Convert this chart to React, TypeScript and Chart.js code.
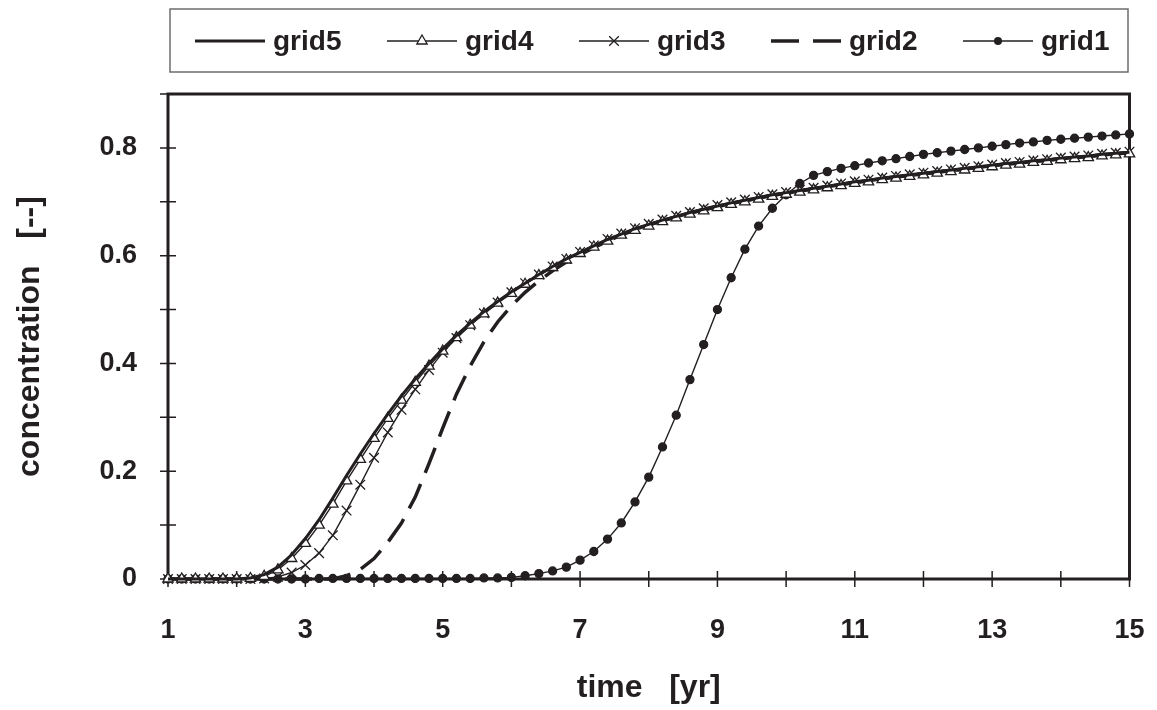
import React, { useEffect, useRef } from 'react';
import { Chart, registerables } from 'chart.js';

Chart.register(...registerables);

// ---------- data ----------
const times = [
  1, 1.2, 1.4, 1.6, 1.8, 2, 2.2, 2.4, 2.6, 2.8,
  3, 3.2, 3.4, 3.6, 3.8, 4, 4.2, 4.4, 4.6, 4.8,
  5, 5.2, 5.4, 5.6, 5.8, 6, 6.2, 6.4, 6.6, 6.8,
  7, 7.2, 7.4, 7.6, 7.8, 8, 8.2, 8.4, 8.6, 8.8,
  9, 9.2, 9.4, 9.6, 9.8, 10, 10.2, 10.4, 10.6, 10.8,
  11, 11.2, 11.4, 11.6, 11.8, 12, 12.2, 12.4, 12.6, 12.8,
  13, 13.2, 13.4, 13.6, 13.8, 14, 14.2, 14.4, 14.6, 14.8,
  15,
];

const grid5 = [
  0, 0, 0, 0, 0, 0, 0.002, 0.008, 0.022, 0.045,
  0.075, 0.110, 0.150, 0.192, 0.232, 0.270, 0.306, 0.340, 0.371, 0.400,
  0.427, 0.452, 0.475, 0.496, 0.515, 0.533, 0.549, 0.565, 0.580, 0.594,
  0.606, 0.618, 0.630, 0.640, 0.650, 0.658, 0.666, 0.673, 0.680, 0.686,
  0.692, 0.698, 0.703, 0.708, 0.713, 0.717, 0.721, 0.725, 0.729, 0.733,
  0.737, 0.740, 0.744, 0.747, 0.750, 0.753, 0.756, 0.759, 0.762, 0.765,
  0.768, 0.771, 0.773, 0.776, 0.778, 0.781, 0.783, 0.785, 0.788, 0.790,
  0.792,
];

const grid4 = [
  0, 0, 0, 0, 0, 0, 0.001, 0.005, 0.017, 0.038,
  0.066, 0.100, 0.139, 0.182, 0.222, 0.261, 0.298, 0.332, 0.365, 0.395,
  0.423, 0.448, 0.471, 0.492, 0.512, 0.530, 0.547, 0.563, 0.578, 0.592,
  0.604, 0.616, 0.627, 0.638, 0.647, 0.655, 0.663, 0.670, 0.677, 0.683,
  0.689, 0.695, 0.700, 0.705, 0.710, 0.714, 0.718, 0.722, 0.726, 0.730,
  0.734, 0.737, 0.741, 0.744, 0.747, 0.750, 0.753, 0.756, 0.759, 0.762,
  0.765, 0.768, 0.770, 0.773, 0.775, 0.778, 0.780, 0.782, 0.785, 0.787,
  0.789,
];

const grid3 = [
  0, 0, 0, 0, 0, 0, 0, 0.001, 0.004, 0.012,
  0.026, 0.048, 0.081, 0.127, 0.175, 0.225, 0.272, 0.314, 0.352, 0.388,
  0.420, 0.447, 0.471, 0.493, 0.513, 0.532, 0.549, 0.565, 0.580, 0.594,
  0.607, 0.619, 0.631, 0.641, 0.651, 0.659, 0.667, 0.674, 0.681, 0.688,
  0.694, 0.699, 0.704, 0.709, 0.714, 0.718, 0.722, 0.726, 0.730, 0.734,
  0.738, 0.741, 0.745, 0.748, 0.751, 0.754, 0.757, 0.760, 0.763, 0.766,
  0.769, 0.772, 0.774, 0.777, 0.779, 0.782, 0.784, 0.786, 0.789, 0.791,
  0.793,
];

const grid2 = [
  0, 0, 0, 0, 0, 0, 0, 0, 0, 0,
  0, 0, 0, 0.006, 0.018, 0.038, 0.068, 0.104, 0.152, 0.214,
  0.280, 0.343, 0.395, 0.440, 0.477, 0.507, 0.532, 0.553, 0.572, 0.588,
  0.602, 0.615, 0.627, 0.638, 0.648, 0.657, 0.665, 0.672, 0.679, 0.685,
  0.691, 0.697, 0.702, 0.707, 0.712, 0.716, 0.720, 0.724, 0.728, 0.732,
  0.736, 0.739, 0.743, 0.746, 0.749, 0.752, 0.755, 0.758, 0.761, 0.764,
  0.767, 0.770, 0.772, 0.775, 0.777, 0.780, 0.782, 0.784, 0.787, 0.789,
  0.791,
];

const grid1 = [
  0, 0, 0, 0, 0, 0, 0, 0, 0, 0,
  0, 0.001, 0.001, 0.001, 0.001, 0.001, 0.001, 0.001, 0.001, 0.001,
  0.001, 0.001, 0.001, 0.002, 0.002, 0.003, 0.006, 0.010, 0.015, 0.022,
  0.035, 0.051, 0.074, 0.104, 0.143, 0.189, 0.245, 0.304, 0.370, 0.435,
  0.500, 0.559, 0.612, 0.655, 0.688, 0.713, 0.734, 0.749, 0.756, 0.762,
  0.767, 0.772, 0.776, 0.780, 0.784, 0.788, 0.791, 0.794, 0.797, 0.800,
  0.803, 0.806, 0.809, 0.811, 0.814, 0.816, 0.818, 0.820, 0.822, 0.824,
  0.826,
];

const seriesNames = ['grid5', 'grid4', 'grid3', 'grid2', 'grid1'];
const seriesValues = [grid5, grid4, grid3, grid2, grid1];

const xTickLabels = ['1', '3', '5', '7', '9', '11', '13', '15'];
const yTickLabels = ['0', '0.2', '0.4', '0.6', '0.8'];
const xTitle = 'time   [yr]';
const yTitle = 'concentration   [--]';

// ---------- styles ----------
const INK = '#231f20';
const FONT = '"Liberation Sans", Arial, Helvetica, sans-serif';
const styles = [
  { lw: 3, dash: [] as number[], marker: 'none' },
  { lw: 1.4, dash: [] as number[], marker: 'triangle' },
  { lw: 1.4, dash: [] as number[], marker: 'crossRot' },
  { lw: 3.5, dash: [27, 12], marker: 'none' },
  { lw: 1.4, dash: [] as number[], marker: 'circle' },
];

function drawMarker(ctx: CanvasRenderingContext2D, kind: string, x: number, y: number) {
  ctx.save();
  ctx.setLineDash([]);
  ctx.strokeStyle = INK;
  ctx.lineWidth = 1.3;
  if (kind === 'triangle') {
    const r = 6;
    ctx.beginPath();
    ctx.moveTo(x, y - r);
    ctx.lineTo(x + r * 0.866, y + r * 0.5);
    ctx.lineTo(x - r * 0.866, y + r * 0.5);
    ctx.closePath();
    ctx.fillStyle = '#fff';
    ctx.fill();
    ctx.stroke();
  } else if (kind === 'crossRot') {
    const d = 4.8;
    ctx.beginPath();
    ctx.moveTo(x - d, y - d);
    ctx.lineTo(x + d, y + d);
    ctx.moveTo(x + d, y - d);
    ctx.lineTo(x - d, y + d);
    ctx.stroke();
  } else if (kind === 'circle') {
    ctx.beginPath();
    ctx.arc(x, y, 4, 0, Math.PI * 2);
    ctx.fillStyle = INK;
    ctx.fill();
  }
  ctx.restore();
}

const framePlugin = {
  id: 'frame',
  beforeDatasetsDraw(chart: any) {
    const { ctx, chartArea } = chart;
    const xs = chart.scales.x;
    const ys = chart.scales.y;
    ctx.save();
    ctx.strokeStyle = INK;
    ctx.lineWidth = 1.5;
    ctx.beginPath();
    xs.ticks.forEach((t: any) => {
      const px = xs.getPixelForValue(t.value);
      ctx.moveTo(px, chartArea.bottom - 8);
      ctx.lineTo(px, chartArea.bottom + 8);
    });
    ys.ticks.forEach((t: any) => {
      const py = ys.getPixelForValue(t.value);
      ctx.moveTo(chartArea.left - 8, py);
      ctx.lineTo(chartArea.left + 8, py);
    });
    ctx.stroke();
    ctx.lineWidth = 3;
    ctx.strokeRect(chartArea.left, chartArea.top, chartArea.right - chartArea.left, chartArea.bottom - chartArea.top);
    ctx.restore();
  },
};

const legendPlugin = {
  id: 'boxLegend',
  afterDraw(chart: any) {
    const ctx: CanvasRenderingContext2D = chart.ctx;
    ctx.save();
    const boxL = 170, boxT = 9, boxR = 1128, boxB = 72;
    ctx.strokeStyle = '#6d6d6d';
    ctx.lineWidth = 1.5;
    ctx.strokeRect(boxL, boxT, boxR - boxL, boxB - boxT);
    const cy = 41;
    ctx.font = `bold 28px ${FONT}`;
    ctx.textBaseline = 'middle';
    ctx.textAlign = 'left';
    seriesNames.forEach((name, k) => {
      const st = styles[k];
      const x0 = 195 + 192 * k;
      const x1 = x0 + 70;
      ctx.strokeStyle = INK;
      ctx.lineWidth = st.lw;
      ctx.setLineDash(st.dash.length ? [28, 14] : []);
      ctx.beginPath();
      ctx.moveTo(x0, cy);
      ctx.lineTo(x1, cy);
      ctx.stroke();
      ctx.setLineDash([]);
      drawMarker(ctx, st.marker, (x0 + x1) / 2, cy);
      ctx.fillStyle = INK;
      ctx.fillText(name, x1 + 8, cy + 1);
    });
    ctx.restore();
  },
};

export default function App() {
  const canvasRef = useRef<HTMLCanvasElement | null>(null);

  useEffect(() => {
    if (!canvasRef.current) return;
    const datasets = seriesNames.map((name, k) => {
      const st = styles[k];
      return {
        label: name,
        data: times.map((t, i) => ({ x: t, y: seriesValues[k][i] })),
        borderColor: INK,
        backgroundColor: st.marker === 'circle' ? INK : '#ffffff',
        borderWidth: st.lw,
        borderDash: st.dash,
        pointStyle: st.marker === 'none' ? false : st.marker,
        pointRadius: st.marker === 'none' ? 0 : st.marker === 'circle' ? 4 : st.marker === 'triangle' ? 6 : 6.8,
        pointBorderWidth: 1.3,
        pointBorderColor: INK,
        pointBackgroundColor: st.marker === 'circle' ? INK : '#ffffff',
        tension: 0,
        clip: false as any,
      };
    });

    const chart = new Chart(canvasRef.current, {
      type: 'line',
      data: { datasets: datasets as any },
      options: {
        animation: false,
        responsive: false,
        maintainAspectRatio: false,
        layout: { padding: { top: 94, right: 27.5, left: 0, bottom: 0 } },
        plugins: { legend: { display: false }, tooltip: { enabled: false } },
        scales: {
          x: {
            type: 'linear',
            min: 1,
            max: 15,
            afterFit: (s: any) => { s.height = 131; s.paddingLeft = 0; s.paddingRight = 0; },
            grid: { display: false },
            border: { display: false },
            ticks: {
              stepSize: 1,
              autoSkip: false,
              maxRotation: 0,
              padding: 27,
              color: INK,
              font: { family: FONT, size: 27, weight: 'bold' },
              callback: (v: any) => {
                const s = String(v);
                return xTickLabels.includes(s) ? s : '';
              },
            },
            title: {
              display: true,
              text: xTitle,
              color: INK,
              font: { family: FONT, size: 32, weight: 'bold' },
              padding: { top: 0, bottom: 3 },
            },
          },
          y: {
            type: 'linear',
            min: 0,
            max: 0.9,
            afterFit: (s: any) => { s.width = 168; s.paddingTop = 0; s.paddingBottom = 0; },
            grid: { display: false },
            border: { display: false },
            ticks: {
              stepSize: 0.1,
              autoSkip: false,
              padding: 23,
              color: INK,
              font: { family: FONT, size: 27, weight: 'bold' },
              callback: (v: any) => {
                const s = Number(v) === 0 ? '0' : Number(v).toFixed(1);
                return yTickLabels.includes(s) ? s : '';
              },
            },
            title: {
              display: true,
              text: yTitle,
              color: INK,
              font: { family: FONT, size: 32, weight: 'bold' },
              padding: { top: 11, bottom: 0 },
            },
          },
        },
      },
      plugins: [framePlugin, legendPlugin],
    });
    return () => chart.destroy();
  }, []);

  return (
    <div style={{ position: 'fixed', left: 0, top: 0, width: 1157, height: 710, background: '#fff' }}>
      <canvas ref={canvasRef} width={1157} height={710} style={{ width: 1157, height: 710 }} />
    </div>
  );
}
